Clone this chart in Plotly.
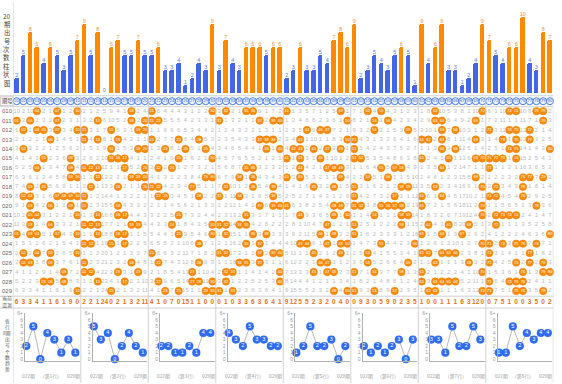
import plotly.graph_objects as go

W, H = 562, 384
def px(x): return x / W
def py(y): return 1 - y / H

# ---------------- data ----------------
numbers = [f"{i:02d}" for i in range(1, 81)]
periods = [f"{i:03d}" for i in range(10, 30)]

bar_counts = [2, 5, 8, 6, 4, 6, 5, 3, 5, 7,
              9, 5, 8, 0, 6, 7, 5, 5, 7, 5,
              5, 6, 3, 3, 4, 1, 2, 4, 3, 9,
              3, 7, 4, 3, 6, 6, 6, 5, 6, 6,
              2, 3, 6, 3, 3, 5, 4, 7, 8, 6,
              9, 2, 3, 5, 4, 3, 5, 6, 5, 1,
              9, 4, 6, 9, 3, 3, 1, 2, 4, 9,
              7, 5, 4, 6, 6, 10, 4, 3, 8, 7]

hits = [
    [4, 7, 10, 18, 21, 30, 32, 35, 36, 41, 49, 53, 55, 63, 70, 74, 75, 78, 79],
    [1, 3, 7, 13, 18, 20, 21, 22, 31, 37, 39, 40, 50, 54, 56, 63, 64, 69, 79],
    [2, 4, 5, 7, 10, 11, 15, 19, 20, 44, 46, 47, 54, 59, 64, 66, 71, 74, 75, 77],
    [6, 11, 13, 16, 21, 25, 28, 37, 38, 39, 43, 50, 51, 61, 62, 64, 69, 73, 75, 77],
    [2, 15, 19, 20, 23, 26, 29, 38, 40, 42, 43, 45, 47, 49, 51, 64, 66, 74, 75, 80],
    [5, 9, 15, 16, 17, 25, 30, 41, 43, 46, 51, 52, 61, 65, 69, 70, 71, 72, 73, 75],
    [4, 9, 11, 12, 13, 17, 20, 22, 24, 35, 36, 43, 47, 48, 49, 55, 57, 58, 64, 71],
    [9, 10, 13, 18, 19, 20, 29, 30, 34, 36, 41, 43, 49, 53, 56, 69, 76, 77, 79],
    [3, 5, 12, 16, 20, 21, 22, 27, 32, 36, 39, 45, 48, 51, 58, 59, 63, 70, 72, 76],
    [2, 3, 7, 8, 9, 10, 11, 22, 23, 28, 31, 34, 39, 51, 57, 61, 64, 71, 72, 76],
    [3, 6, 9, 11, 16, 37, 39, 40, 41, 48, 49, 51, 52, 55, 56, 57, 58, 61, 70, 78],
    [3, 4, 10, 13, 16, 17, 25, 35, 43, 48, 50, 54, 58, 59, 70, 72, 73, 74, 75],
    [3, 6, 11, 12, 13, 18, 19, 24, 30, 31, 32, 34, 35, 47, 51, 58, 62, 65, 68, 72],
    [1, 3, 4, 7, 10, 13, 16, 17, 25, 30, 32, 36, 38, 46, 48, 51, 61, 64, 67, 80],
    [11, 12, 15, 17, 28, 35, 37, 43, 44, 47, 49, 50, 55, 60, 70, 71, 73, 75, 76, 78],
    [2, 4, 6, 10, 21, 31, 32, 37, 39, 40, 45, 49, 53, 61, 62, 64, 65, 66, 71, 77],
    [2, 3, 6, 11, 18, 22, 28, 34, 35, 37, 46, 47, 53, 59, 63, 68, 71, 75, 77, 79],
    [8, 11, 12, 16, 19, 27, 32, 33, 40, 45, 47, 48, 51, 54, 58, 61, 70, 76, 79, 80],
    [5, 6, 8, 13, 17, 22, 27, 28, 30, 32, 40, 61, 63, 64, 65, 66, 71, 74, 75, 76],
    [10, 15, 23, 25, 29, 30, 31, 33, 48, 50, 51, 54, 57, 62, 63, 70, 71, 75, 76, 79],
]

omission_010 = [10, 2, 10, 0, 2, 1, 0, 1, 2, 0,
                2, 1, 2, 5, 9, 4, 1, 0, 2, 4,
                0, 6, 4, 4, 4, 3, 1, 2, 2, 0,
                3, 0, 2, 1, 0, 0, 9, 1, 7, 2,
                0, 1, 3, 5, 7, 1, 2, 5, 0, 1,
                7, 1, 0, 4, 0, 4, 3, 1, 2, 3,
                1, 8, 0, 10, 5, 3, 8, 1, 10, 0,
                6, 1, 10, 0, 0, 10, 6, 0, 0, 2]

current_omission = [6, 3, 3, 4, 1, 1, 6, 1, 9, 0,
                    2, 2, 1, 24, 0, 2, 1, 3, 2, 11,
                    4, 1, 0, 7, 0, 15, 1, 1, 0, 0,
                    0, 1, 0, 3, 3, 6, 3, 6, 4, 1,
                    9, 12, 5, 5, 2, 3, 2, 0, 4, 0,
                    0, 9, 3, 0, 5, 9, 0, 2, 3, 5,
                    1, 0, 0, 1, 1, 1, 6, 3, 12, 0,
                    0, 7, 5, 1, 0, 0, 3, 5, 0, 2]

trend_periods = ["022", "023", "024", "025", "026", "027", "028", "029"]
group_names = ["第1行", "第2行", "第3行", "第4行", "第5行", "第6行", "第7行", "第8行"]
group_trend = [
    [2, 5, 0, 4, 3, 1, 3, 1],
    [5, 3, 4, 0, 2, 4, 2, 1],
    [2, 2, 1, 1, 2, 1, 4, 4],
    [4, 3, 2, 5, 3, 3, 2, 2],
    [1, 2, 5, 2, 2, 3, 0, 2],
    [2, 1, 2, 1, 2, 3, 0, 3],
    [3, 3, 1, 5, 2, 2, 5, 3],
    [1, 1, 5, 2, 4, 3, 4, 4],
]

top_label = ["20", "期", "出", "号", "次", "数", "柱", "状", "图"]
trend_label = ["各", "行", "8期", "出", "号", "个", "数", "趋", "势"]

# ---------------- geometry (pixels) ----------------
GRID_L, GRID_R = 13.3, 553.3
ROW_TOP_PX, ROW_H = 95.0, 9.54
HEADER_R = -1.05
CURRENT_R = 20.2

FONT = "Liberation Sans, Arial, sans-serif"
CJK = "Noto Sans CJK SC, sans-serif"

fig = go.Figure()

# ---------------- bar chart ----------------
bar_colors = ["#ff8a00" if v >= 6 else "#4565e8" for v in bar_counts]
lab_colors = ["#f0913a" if v >= 6 else "#5d7ae0" for v in bar_counts]
fig.add_trace(go.Bar(
    x=list(range(1, 81)), y=bar_counts, width=0.68,
    marker=dict(color=bar_colors, cornerradius=2, line=dict(width=0)),
    text=[str(v) for v in bar_counts], textposition="outside",
    textfont=dict(size=5.5, color=lab_colors, family=FONT),
    constraintext="none", cliponaxis=False, hoverinfo="skip",
    xaxis="x", yaxis="y"))

# ---------------- omission grid ----------------
grid = []
for r, row in enumerate(hits):
    vals = []
    for c in range(1, 81):
        if r == 0:
            v = omission_010[c - 1]
        else:
            v = 1 if c in hits[r - 1] else grid[r - 1][c - 1] + 1
        vals.append(v)
    grid.append(vals)

gx, gy, gt = [], [], []
hx, hy, ht = [], [], []
for r, row in enumerate(hits):
    for c in range(1, 81):
        if c in row:
            hx.append(c); hy.append(r); ht.append(numbers[c - 1])
        else:
            gx.append(c); gy.append(r); gt.append(str(grid[r][c - 1]))

fig.add_trace(go.Scatter(
    x=gx, y=gy, text=gt, mode="text",
    textfont=dict(size=6, color="#bcbcbc", family=FONT),
    hoverinfo="skip", xaxis="x2", yaxis="y2", cliponaxis=False))
fig.add_trace(go.Scatter(
    x=hx, y=hy, text=ht, mode="markers+text",
    marker=dict(size=7.4, color="#fa8c0c", line=dict(width=0.6, color="#ee7d00")),
    textfont=dict(size=4, color="white", family=FONT),
    textposition="middle center",
    hoverinfo="skip", xaxis="x2", yaxis="y2", cliponaxis=False))

# header numbers
fig.add_trace(go.Scatter(
    x=list(range(1, 81)), y=[HEADER_R] * 80, text=numbers, mode="markers+text",
    marker=dict(size=7, color="#eef4ff", line=dict(width=1, color="#4a7de6")),
    textfont=dict(size=4, color="#2d5fd6", family=FONT),
    textposition="middle center",
    hoverinfo="skip", xaxis="x2", yaxis="y2", cliponaxis=False))

# current omission row
fig.add_trace(go.Scatter(
    x=list(range(1, 81)), y=[CURRENT_R] * 80, text=[str(v) for v in current_omission],
    mode="text", textfont=dict(size=6.5, color="#e4741c", family=FONT, weight="bold"),
    hoverinfo="skip", xaxis="x2", yaxis="y2", cliponaxis=False))

# ---------------- mini trend charts ----------------
layout_axes = {}
annotations = []

def label(x, y, text, size, color, family, yref="paper"):
    annotations.append(dict(x=x, y=y, xref="paper", yref=yref, text=text,
                            showarrow=False, xanchor="center", yanchor="middle",
                            font=dict(size=size, color=color, family=family)))

for k in range(8):
    n = k + 3
    left = GRID_L + 67.5 * k
    fig.add_trace(go.Scatter(
        x=list(range(8)), y=group_trend[k], mode="lines+markers+text",
        line=dict(color="#b8b8b8", width=1),
        marker=dict(size=8.2, color="#2f6cf0", line=dict(width=0)),
        text=[str(v) for v in group_trend[k]], textposition="middle center",
        textfont=dict(size=5.5, color="white", family=FONT),
        hoverinfo="skip", xaxis=f"x{n}", yaxis=f"y{n}", cliponaxis=False))
    layout_axes[f"xaxis{n}"] = dict(
        domain=[px(left + 11.7), px(left + 66.5)], range=[-0.19, 7.64],
        showline=True, linecolor="#b0b0b0", linewidth=1, showticklabels=False,
        showgrid=False, zeroline=False, ticks="", anchor=f"y{n}", fixedrange=True)
    layout_axes[f"yaxis{n}"] = dict(
        domain=[py(362), py(313)], range=[-0.3, 7.12],
        showline=True, linecolor="#b0b0b0", linewidth=1,
        tickvals=list(range(8)), ticktext=["0", "1", "2", "3", "4", "5", "6", "6+"],
        tickfont=dict(size=5, color="#9a9a9a", family=FONT),
        showgrid=False, zeroline=False, ticks="", anchor=f"x{n}", fixedrange=True)
    for txt, dx in ((trend_periods[0] + "期", 15.5), ("（" + group_names[k] + "）", 37.5),
                    (trend_periods[-1] + "期", 60)):
        label(px(left + dx), py(377), txt, 4.8, "#9a9a9a", CJK)

# ---------------- left labels ----------------
for i, ch in enumerate(top_label):
    label(px(6.7), py(14.3 + 8.42 * i), ch, 6.3, "#444", CJK)
for i, ch in enumerate(trend_label):
    label(px(7), py(321.7 + 6.05 * i), ch, 4.8, "#555", CJK)
label(px(7), HEADER_R, "期号", 5.3, "#333", CJK, yref="y2")
for r, p in enumerate(periods):
    label(px(7.2), r, p, 6, "#666", FONT, yref="y2")
label(px(7), py(298.5), "当前", 5, "#666", CJK)
label(px(7), py(305.5), "遗漏", 5, "#666", CJK)

# ---------------- lines ----------------
shapes = []
LINE = "#d2d2d2"
for b in [0.5, 10.5, 20.5, 30.5, 40.5, 50.5, 60.5, 70.5, 80.5]:
    y0 = 1 if b == 0.5 else py(95)
    shapes.append(dict(type="line", xref="x2", yref="paper", x0=b, x1=b,
                       y0=y0, y1=0, line=dict(color=LINE, width=1)))
for yy in (94.5, 105.5, 296.5, 308.5):
    shapes.append(dict(type="line", xref="paper", yref="paper", x0=0, x1=px(GRID_R),
                       y0=py(yy), y1=py(yy), line=dict(color=LINE, width=1)))
shapes.append(dict(type="rect", xref="paper", yref="paper", x0=px(0.5), x1=px(13.3),
                   y0=py(104.5), y1=py(95.5), line=dict(color="#c8c8c8", width=0.8),
                   fillcolor="#f4f4f4", layer="below"))

fig.update_layout(
    width=W, height=H, margin=dict(l=0, r=0, t=0, b=0),
    paper_bgcolor="white", plot_bgcolor="white", showlegend=False,
    xaxis=dict(domain=[px(GRID_L), px(GRID_R)], range=[0.5, 80.5], visible=False,
               anchor="y", fixedrange=True),
    yaxis=dict(domain=[py(91.7), 1], range=[0, 91.7 / 7.67], visible=False,
               anchor="x", fixedrange=True),
    xaxis2=dict(domain=[px(GRID_L), px(GRID_R)], range=[0.5, 80.5], visible=False,
                anchor="y2", fixedrange=True),
    yaxis2=dict(domain=[py(310), py(ROW_TOP_PX)],
                range=[(310 - ROW_TOP_PX) / ROW_H - 1.572, -1.572], visible=False,
                anchor="x2", fixedrange=True),
    annotations=annotations, shapes=shapes, bargap=0,
    **layout_axes)

fig.write_html("out.html", config={"displayModeBar": False},
               post_script="document.body.style.margin='0';document.body.style.overflow='hidden';")
